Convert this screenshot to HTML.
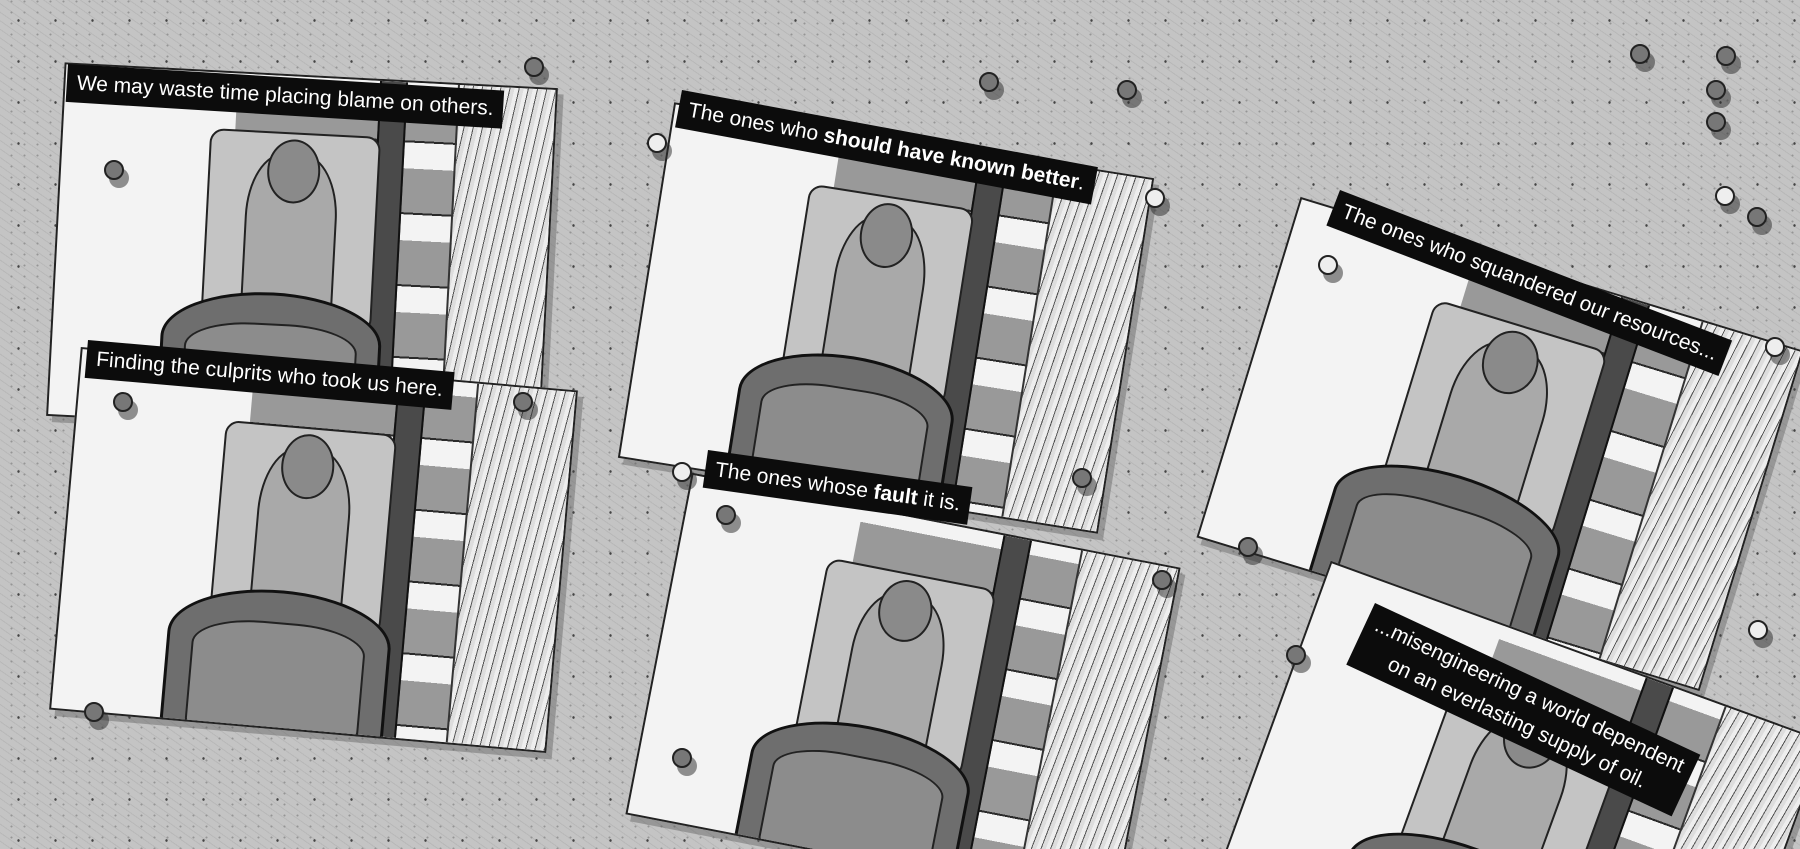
<!DOCTYPE html>
<html><head><meta charset="utf-8"><style>
html,body{margin:0;padding:0;width:1800px;height:849px;overflow:hidden}
#w{position:absolute;left:0;top:0;width:1800px;height:849px;overflow:hidden;background:#c4c4c4;
background-image:radial-gradient(#444 1px,transparent 1.4px),radial-gradient(#959595 0.9px,transparent 1.3px),repeating-linear-gradient(35deg,transparent 0 6px,rgba(150,150,150,.25) 6px 7px);
background-size:37px 41px,13px 11px,auto;background-position:0 0,5px 7px,0 0;font-family:"Liberation Sans",sans-serif}
.p{position:absolute;background:#f3f3f3;border:2px solid #222;box-shadow:6px 6px 0 rgba(70,70,70,.35);overflow:hidden}
.pl{position:absolute;left:35%;right:0;top:0;bottom:0;background:repeating-linear-gradient(180deg,#f3f3f3 0 14px,#999 14px 58px,#2a2a2a 58px 60px,#f3f3f3 60px 72px)}
.tr{position:absolute;left:80%;right:0;top:0;bottom:0;background:repeating-linear-gradient(100deg,#eee 0 4px,#555 4px 5px,#ddd 5px 9px);border-left:2px solid #333}
.rl{position:absolute;left:64%;width:5%;top:0;bottom:0;background:#4a4a4a;border-left:2px solid #111;border-right:2px solid #111}
.seat{position:absolute;left:30%;width:34%;top:16%;height:55%;background:#c4c4c4;border:2px solid #222;border-radius:14px}
.man{position:absolute;left:38%;width:18%;top:22%;height:45%;background:#a9a9a9;border:2px solid #222;border-radius:40% 40% 6px 6px}
.head{position:absolute;left:42%;width:10%;top:18%;height:17%;background:#8a8a8a;border:2px solid #222;border-radius:50%}
.cart{position:absolute;left:22%;width:44%;top:62%;height:45%;background:#6e6e6e;border:3px solid #111;border-radius:50% 50% 8px 8px/30% 30% 8px 8px}
.cart:after{content:"";position:absolute;left:10%;right:10%;top:18%;bottom:15%;background:#8c8c8c;border:2px solid #222;border-radius:40% 40% 6px 6px/25% 25% 6px 6px}
.c{position:absolute;background:#0c0c0c;color:#fff;font-size:21px;line-height:38px;padding:0 10px;white-space:nowrap}
.pin{position:absolute;width:16px;height:16px;border-radius:50%;background:#777;border:2px solid #222;box-shadow:5px 8px 0 rgba(40,40,40,.5)}
</style></head><body><div id="w">

<div class="p" style="left:55px;top:75px;width:490px;height:350px;transform:rotate(3deg)"><div class="pl"></div><div class="tr"></div><div class="rl"></div><div class="seat"></div><div class="man"></div><div class="head"></div><div class="cart"></div></div>
<div class="p" style="left:64px;top:368px;width:495px;height:360px;transform:rotate(5deg)"><div class="pl"></div><div class="tr"></div><div class="rl"></div><div class="seat"></div><div class="man"></div><div class="head"></div><div class="cart"></div></div>
<div class="p" style="left:643px;top:138px;width:482px;height:356px;transform:rotate(9deg)"><div class="pl"></div><div class="tr"></div><div class="rl"></div><div class="seat"></div><div class="man"></div><div class="head"></div><div class="cart"></div></div>
<div class="p" style="left:654px;top:517px;width:494px;height:344px;transform:rotate(11deg)"><div class="pl"></div><div class="tr"></div><div class="rl"></div><div class="seat"></div><div class="man"></div><div class="head"></div><div class="cart"></div></div>
<div class="p" style="left:1237px;top:266px;width:522px;height:352px;transform:rotate(17deg)"><div class="pl"></div><div class="tr"></div><div class="rl"></div><div class="seat"></div><div class="man"></div><div class="head"></div><div class="cart"></div></div>
<div class="p" style="left:1254px;top:640px;width:522px;height:352px;transform:rotate(20deg)"><div class="pl"></div><div class="tr"></div><div class="rl"></div><div class="seat"></div><div class="man"></div><div class="head"></div><div class="cart"></div></div>

<div class="c" style="left:68px;top:64px;transform:rotate(3.5deg);transform-origin:left top">We may waste time placing blame on others.</div>
<div class="c" style="left:88px;top:340px;transform:rotate(5deg);transform-origin:left top">Finding the culprits who took us here.</div>
<div class="c" style="left:682px;top:90px;transform:rotate(10.5deg);transform-origin:left top">The ones who <b>should have known better</b>.</div>
<div class="c" style="left:708px;top:450px;transform:rotate(8deg);transform-origin:left top">The ones whose <b>fault</b> it is.</div>
<div class="c" style="left:1340px;top:190px;transform:rotate(21deg);transform-origin:left top">The ones who squandered our resources...</div>
<div class="c" style="left:1375px;top:603px;transform:rotate(25deg);transform-origin:left top;line-height:30px;padding:4px 10px;text-align:center">...misengineering a world dependent<br>on an everlasting supply of oil.</div>

<div class="pin" style="left:524px;top:57px"></div>
<div class="pin" style="left:979px;top:72px"></div>
<div class="pin" style="left:1117px;top:80px"></div>
<div class="pin" style="left:1630px;top:44px"></div>
<div class="pin" style="left:1716px;top:46px"></div>
<div class="pin" style="left:1706px;top:80px"></div>
<div class="pin" style="left:1706px;top:112px"></div>
<div class="pin" style="left:1715px;top:186px;background:#eee"></div>
<div class="pin" style="left:1747px;top:207px"></div>
<div class="pin" style="left:1145px;top:188px;background:#eee"></div>
<div class="pin" style="left:104px;top:160px"></div>
<div class="pin" style="left:113px;top:392px"></div>
<div class="pin" style="left:513px;top:392px"></div>
<div class="pin" style="left:647px;top:133px;background:#eee"></div>
<div class="pin" style="left:1238px;top:537px"></div>
<div class="pin" style="left:1318px;top:255px;background:#eee"></div>
<div class="pin" style="left:1765px;top:337px;background:#eee"></div>
<div class="pin" style="left:1748px;top:620px;background:#eee"></div>
<div class="pin" style="left:1286px;top:645px"></div>
<div class="pin" style="left:1152px;top:570px"></div>
<div class="pin" style="left:672px;top:462px;background:#eee"></div>
<div class="pin" style="left:716px;top:505px"></div>
<div class="pin" style="left:672px;top:748px"></div>
<div class="pin" style="left:84px;top:702px"></div>
<div class="pin" style="left:1072px;top:468px"></div>
</div></body></html>
